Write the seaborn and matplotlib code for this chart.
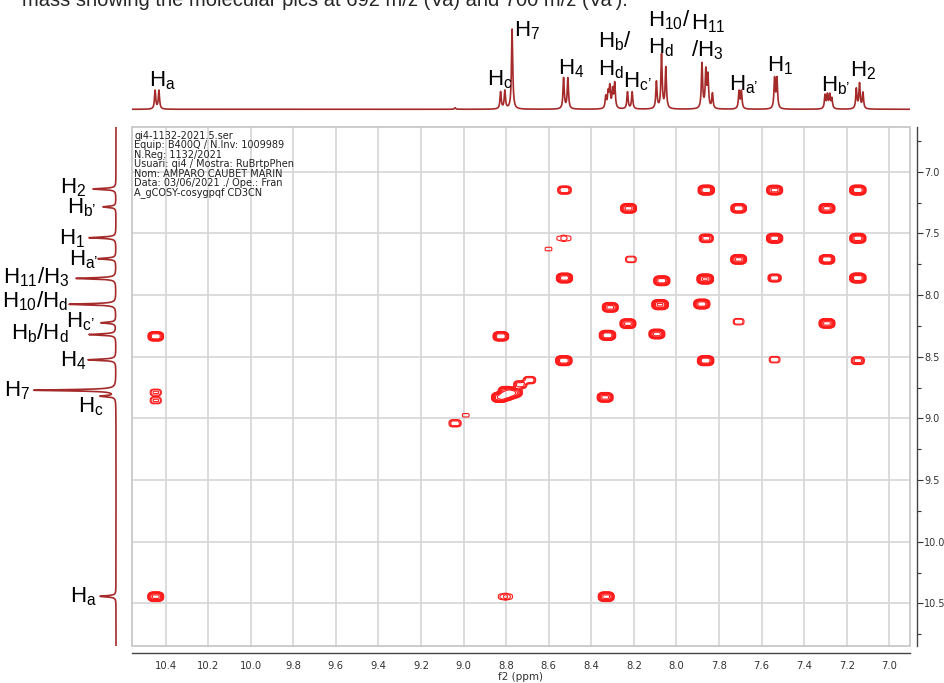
import numpy as np
import matplotlib
matplotlib.use("Agg")
import matplotlib.pyplot as plt
import matplotlib.ticker as mticker
from matplotlib.patches import Rectangle
import seaborn as sns

# --- top projection (f2): line positions (ppm) and heights ---
top_shift = [10.449, 10.431, 9.04,
             8.826, 8.806, 8.772,
             8.530, 8.510,
             8.332, 8.321, 8.313, 8.300, 8.290,
             8.230, 8.208,
             8.094, 8.070, 8.050,
             7.880, 7.862, 7.852, 7.831,
             7.706, 7.695,
             7.539, 7.528,
             7.302, 7.291, 7.280, 7.270,
             7.155, 7.140, 7.124]
top_height = [18.6, 18.6, 1.5,
              17.0, 18.0, 80.0,
              31.0, 31.0,
              12.0, 15.0, 21.0, 18.0, 25.0,
              17.0, 17.0,
              27.0, 54.0, 41.0,
              45.0, 37.0, 32.0, 15.0,
              17.5, 17.5,
              30.0, 30.0,
              13.5, 13.5, 13.5, 10.0,
              20.0, 25.0, 16.0]

# --- left projection (f1) ---
left_shift = [7.14, 7.285, 7.535, 7.705, 7.865, 8.075, 8.225, 8.32, 8.525,
              8.772, 8.82, 10.443]
left_height = [23, 13, 27, 18, 40, 47, 15, 27, 28, 82, 15, 16]

# --- COSY cross peaks: f2 (ppm), f1 (ppm), relative intensity ---
cross_f2 = [8.526, 7.860, 7.539, 7.148,
            8.225, 7.708, 7.293,
            8.515, 7.860, 7.539, 7.148,
            8.214, 7.708, 7.293,
            8.526, 8.069, 7.865, 7.539, 7.148,
            8.311, 8.077, 7.881,
            8.228, 7.708, 7.293,
            10.446, 8.825, 8.324, 8.092,
            8.529, 7.863, 7.539, 7.148,
            10.446, 10.446,
            8.830, 8.805, 8.780, 8.800, 8.760, 8.734, 8.690,
            8.335, 9.040, 8.990,
            10.446, 8.330, 8.815, 8.790,
            8.601, 8.546]
cross_f1 = [7.149, 7.149, 7.149, 7.149,
            7.297, 7.297, 7.297,
            7.540, 7.540, 7.540, 7.540,
            7.711, 7.711, 7.711,
            7.862, 7.884, 7.870, 7.862, 7.862,
            8.100, 8.078, 8.073,
            8.232, 8.216, 8.230,
            8.335, 8.335, 8.327, 8.316,
            8.532, 8.532, 8.524, 8.532,
            8.790, 8.855,
            8.830, 8.815, 8.800, 8.780, 8.790, 8.727, 8.690,
            8.830, 9.040, 8.975,
            10.446, 10.446, 10.446, 10.446,
            7.627, 7.540]
cross_int = [0.25, 0.9, 0.7, 0.9,
             0.7, 0.6, 0.7,
             0.06, 0.3, 0.8, 0.8,
             0.1, 0.7, 0.6,
             0.8, 0.8, 1.0, 0.22, 0.9,
             0.7, 1.0, 0.8,
             0.7, 0.1, 0.7,
             0.6, 0.6, 0.9, 0.7,
             0.9, 0.9, 0.1, 0.2,
             0.11, 0.11,
             0.9, 1.0, 0.9, 0.6, 0.5, 0.2, 0.15,
             0.7, 0.15, 0.05,
             0.7, 0.7, 0.07, 0.06,
             0.05, 0.05]

# --- assignment labels ---
top_label_text = ["H$_a$", "H$_c$", "H$_7$", "H$_4$", "H$_b$/", "H$_d$", "H$_{c’}$",
                  "H$_{10}$/", "H$_d$", "H$_{11}$", "/H$_3$", "H$_{a’}$", "H$_1$",
                  "H$_{b’}$", "H$_2$"]
top_label_x = [10.48, 8.892, 8.762, 8.556, 8.368, 8.368, 8.251,
               8.133, 8.133, 7.930, 7.934, 7.753, 7.575, 7.323, 7.183]
top_label_y = [22.5, 24.3, 72.6, 35.0, 62.0, 34.3, 22.0,
               83.3, 56.0, 80.0, 53.3, 18.6, 37.6, 17.6, 32.6]

left_label_text = ["H$_2$", "H$_{b’}$", "H$_1$", "H$_{a’}$", "H$_{11}$/H$_3$",
                   "H$_{10}$/H$_d$", "H$_{c’}$", "H$_b$/H$_d$", "H$_4$", "H$_7$",
                   "H$_c$", "H$_a$"]
left_label_x = [30, 19.3, 31, 17.7, 46, 47.7, 21, 47.7, 30, 86, 12.7, 19.3]
left_label_y = [7.172, 7.334, 7.590, 7.758, 7.909, 8.104, 8.266, 8.360, 8.576,
                8.82, 8.955, 10.495]

info_text = ("qi4-1132-2021.5.ser\nEquip: B400Q / N.Inv: 1009989\nN.Reg: 1132/2021\n"
             "Usuari: qi4 / Mostra: RuBrtpPhen\nNom: AMPARO CAUBET MARIN\n"
             "Data: 03/06/2021 ./ Ope.: Fran\nA_gCOSY-cosygpqf CD3CN")

X_LIM = (10.559, 6.903)
Y_LIM = (10.846, 6.635)
SPEC_COLOR = "#a52a2a"


def lorentz(axis, shifts, heights, fwhm):
    g = fwhm / 2
    out = np.zeros_like(axis)
    for s, h in zip(shifts, heights):
        out += h / (1 + ((axis - s) / g) ** 2)
    return out


def main():
    sns.set_theme(style="white")
    plt.rcParams['font.family'] = ['DejaVu Sans']
    plt.rcParams['mathtext.fontset'] = 'custom'
    plt.rcParams['mathtext.rm'] = 'Liberation Sans'
    plt.rcParams['mathtext.it'] = 'Liberation Sans'
    plt.rcParams['mathtext.bf'] = 'Liberation Sans'

    fig = plt.figure(figsize=(9.44, 6.83), dpi=100)
    W, H = 944, 683
    left_px, right_px, top_px, bot_px = 131.7, 910, 126.7, 646
    main_rect = [left_px / W, 1 - bot_px / H, (right_px - left_px) / W, (bot_px - top_px) / H]

    ax = fig.add_axes(main_rect)
    ax_top = fig.add_axes([left_px / W, 1 - 116 / H, (right_px - left_px) / W, 116 / H])
    ax_left = fig.add_axes([0, 1 - bot_px / H, left_px / W, (bot_px - top_px) / H])

    # ---- 2D contour map ----
    f2 = np.linspace(X_LIM[1], X_LIM[0], 1000)
    f1 = np.linspace(Y_LIM[1], Y_LIM[0], 900)
    Z = np.zeros((f1.size, f2.size))
    J, SIG = 0.012, 0.011
    for x0, y0, a in zip(cross_f2, cross_f1, cross_int):
        for dx in (-J, J):
            gx = np.exp(-0.5 * ((f2 - x0 - dx) / SIG) ** 2)
            for dy in (-J, J):
                gy = np.exp(-0.5 * ((f1 - y0 - dy) / (SIG * 1.1)) ** 2)
                Z += a * np.outer(gy, gx)
    levels = np.geomspace(0.06, 1.3, 8)
    ax.contour(f2, f1, Z, levels=levels, colors="#ff1a1a", linewidths=0.8, zorder=3)

    ax.set_xlim(*X_LIM)
    ax.set_ylim(*Y_LIM)
    ax.xaxis.set_major_locator(mticker.MultipleLocator(0.2))
    ax.xaxis.set_minor_locator(mticker.MultipleLocator(0.1))
    ax.yaxis.set_major_locator(mticker.MultipleLocator(0.5))
    ax.yaxis.set_minor_locator(mticker.MultipleLocator(0.25))
    ax.xaxis.set_major_formatter(mticker.FormatStrFormatter('%.1f'))
    ax.yaxis.set_major_formatter(mticker.FormatStrFormatter('%.1f'))
    ax.yaxis.tick_right()
    ax.tick_params(which='both', direction='out', length=4, width=0.8,
                   colors='#333333', labelsize=7.2, pad=1.5)
    ax.tick_params(axis='y', labelsize=7.0, pad=1)
    ax.tick_params(which='minor', length=3)
    ax.grid(True, which='major', color='#d6d6d6', lw=1.2, zorder=0)
    ax.set_axisbelow(True)
    for side in ['top', 'left']:
        ax.spines[side].set_visible(False)
    for side in ['right', 'bottom']:
        ax.spines[side].set_position(('outward', 5))
        ax.spines[side].set_color('#444444')
        ax.spines[side].set_linewidth(1.0)
    ax.add_patch(Rectangle((0, 0), 1, 1, transform=ax.transAxes, fill=False,
                           ec='#c8c8c8', lw=1.3, zorder=1, clip_on=False))
    ax.set_xlabel('f2 (ppm)', fontsize=7.5, labelpad=1, color='#333333')
    ax.set_ylabel('')
    ax.text(0.003, 0.992, info_text, transform=ax.transAxes, va='top', ha='left',
            fontsize=7.0, linespacing=0.93, color='#222222', zorder=4)

    # ---- top projection ----
    x_axis = np.linspace(X_LIM[1], X_LIM[0], 7000)
    top_spec = lorentz(x_axis, top_shift, top_height, 0.007)
    sns.lineplot(x=x_axis, y=top_spec, ax=ax_top, color=SPEC_COLOR, lw=1.2,
                 sort=False, estimator=None)
    ax_top.set_xlim(*X_LIM)
    ax_top.set_ylim(-6.7, 109.3)
    ax_top.axis('off')
    for t, x, y in zip(top_label_text, top_label_x, top_label_y):
        ax_top.text(x, y, t, ha='left', va='baseline', fontsize=16,
                    family='Liberation Sans', color='black')

    # ---- left projection ----
    y_axis = np.linspace(Y_LIM[1], Y_LIM[0], 7000)
    left_spec = lorentz(y_axis, left_shift, left_height, 0.012)
    sns.lineplot(x=left_spec, y=y_axis, ax=ax_left, color=SPEC_COLOR, lw=1.2,
                 sort=False, estimator=None, orient='y')
    ax_left.set_ylim(*Y_LIM)
    ax_left.set_xlim(116, -15.7)
    ax_left.axis('off')
    for t, x, y in zip(left_label_text, left_label_x, left_label_y):
        ax_left.text(x, y, t, ha='right', va='baseline', fontsize=16,
                     family='Liberation Sans', color='black')

    # caption line cut off at the top of the page
    fig.text(22 / W, 1 - 6 / H,
             "mass showing the molecular pics at 692 m/z (Va) and 700 m/z (Va').",
             fontsize=14.5, family='Liberation Sans', va='baseline', ha='left')

    fig.savefig("out.png", dpi=100)


if __name__ == "__main__":
    main()
